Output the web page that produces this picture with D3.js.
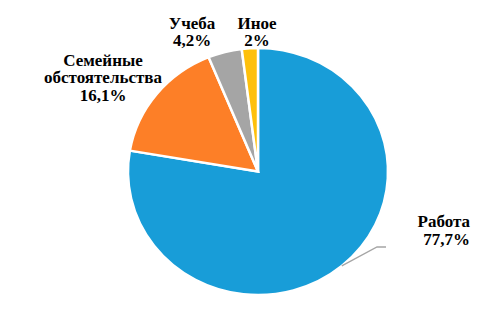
<!DOCTYPE html>
<html>
<head>
<meta charset="utf-8">
<script src="https://cdn.jsdelivr.net/npm/d3@7"></script>
<style>
  body { margin: 0; background: #fff; }
  text, tspan { font-family: "Liberation Serif", "Times New Roman", serif; font-weight: bold; font-size: 17px; fill: #000; }
</style>
</head>
<body>
<div id="chart"></div>
<script>
// данные
const categories = ["Работа", "Семейные обстоятельства", "Учеба", "Иное"];
const values = [77.7, 16.1, 4.2, 2];
const valueLabels = ["77,7%", "16,1%", "4,2%", "2%"];
const colors = ["#189dd8", "#fd7f27", "#a5a5a5", "#fec00b"];

const width = 498, height = 314;
const cx = 258, cy = 171.5, r = 130, ky = 0.95;

const svg = d3.select("#chart").append("svg")
    .attr("width", width)
    .attr("height", height);

const pie = d3.pie().sort(null).value(d => d);
const arcs = pie(values);
const arc = d3.arc().innerRadius(0).outerRadius(r);

// круговая диаграмма (чуть сжата по вертикали, как в оригинале)
const g = svg.append("g")
    .attr("transform", `translate(${cx},${cy}) scale(1,${ky})`);

g.selectAll("path")
    .data(arcs)
    .enter().append("path")
    .attr("d", arc)
    .attr("fill", (d, i) => colors[i])
    .attr("stroke", "#fff")
    .attr("stroke-width", 2.5);

// подписи
const labels = [
    { lines: ["Работа", valueLabels[0]], x: 470, y: 227, anchor: "end" },
    { lines: ["Семейные", "обстоятельства", valueLabels[1]], x: 103, y: 65.5, anchor: "middle" },
    { lines: ["Учеба", valueLabels[2]], x: 192, y: 28.5, anchor: "middle" },
    { lines: ["Иное", valueLabels[3]], x: 257, y: 28.5, anchor: "middle" }
];

labels.forEach(l => {
    const t = svg.append("text")
        .attr("text-anchor", l.anchor);
    l.lines.forEach((s, j) => {
        t.append("tspan")
            .attr("x", l.x)
            .attr("y", l.y + j * 17.5)
            .text(s);
    });
});

// выноска для "Работа"
const a0 = (arcs[0].startAngle + arcs[0].endAngle) / 2;
const p0 = [cx + r * Math.sin(a0), cy - r * Math.cos(a0) * ky];
svg.append("polyline")
    .attr("points", [p0, [377, 247], [386, 247]].map(p => p.join(",")).join(" "))
    .attr("fill", "none")
    .attr("stroke", "#a5a5a5")
    .attr("stroke-width", 1.3);
</script>
</body>
</html>
